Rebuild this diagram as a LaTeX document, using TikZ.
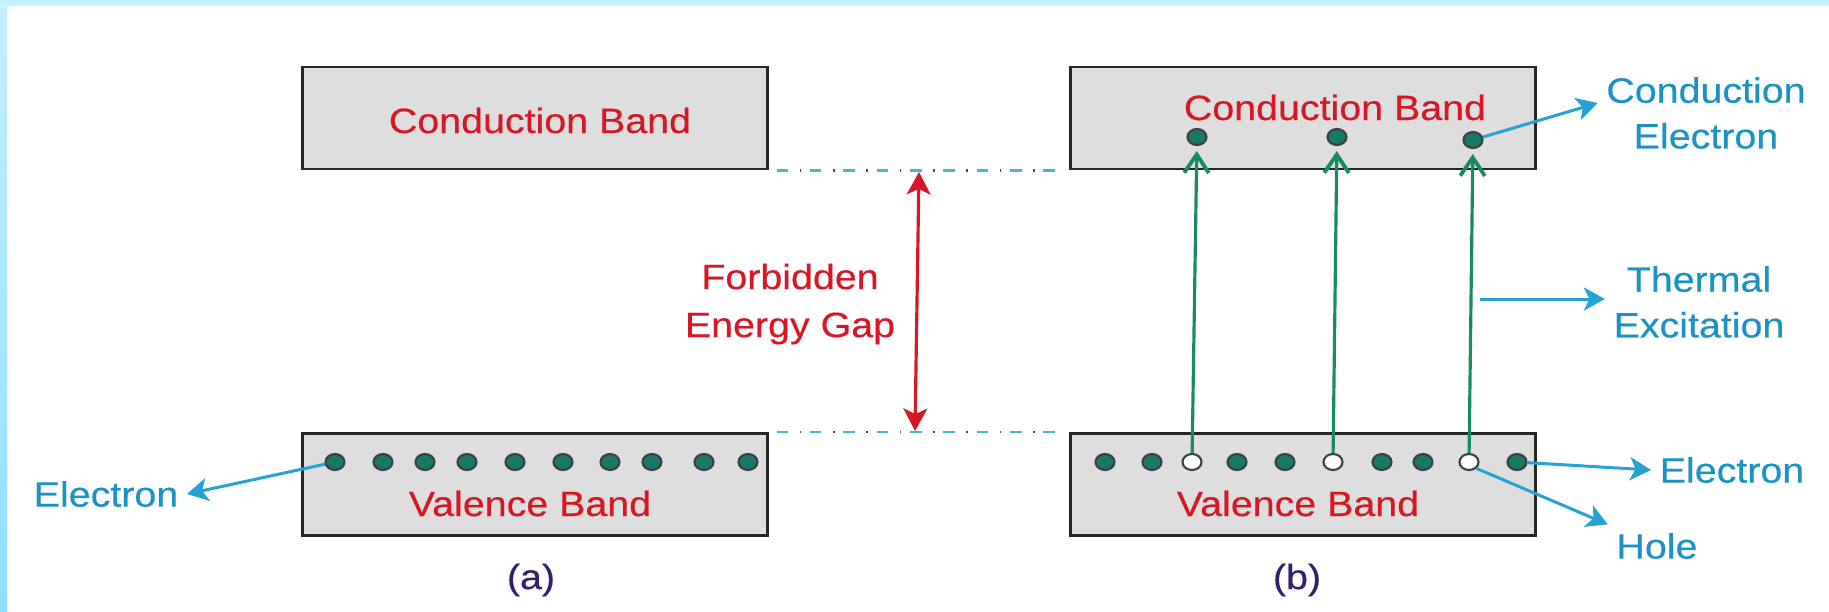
\documentclass[tikz,border=0pt]{standalone}
\usepackage{fontspec}
\setmainfont{Liberation Sans}[FakeStretch=1.12,FakeBold=0.4]
\usetikzlibrary{shapes.geometric,arrows.meta,positioning,calc}

\definecolor{bandred}{RGB}{214,24,38}
\definecolor{tagblue}{RGB}{28,146,196}
\definecolor{pointblue}{RGB}{38,162,212}
\definecolor{exgreen}{RGB}{24,140,92}
\definecolor{dotteal}{RGB}{22,122,100}
\definecolor{capnavy}{RGB}{52,32,104}
\definecolor{gapcyan}{RGB}{72,182,206}
\definecolor{framesky}{RGB}{196,239,254}
\definecolor{framedeep}{RGB}{140,224,255}

\begin{document}
\begin{tikzpicture}[
  x=0.01cm, y=-0.01cm,
  band/.style={rectangle, draw=black!85, line width=0.8pt, fill=black!13,
               minimum width=4.64cm, minimum height=1.02cm, inner sep=0pt},
  bandtext/.style={text=bandred, font=\fontsize{10}{13.5}\selectfont, anchor=base},
  tag/.style={text=tagblue, font=\fontsize{10}{13}\selectfont, align=center, inner sep=0.08cm},
  elec/.style={ellipse, draw=black!75, line width=0.6pt, fill=dotteal,
               minimum width=0.19cm, minimum height=0.16cm, inner sep=0pt},
  hole/.style={elec, fill=white},
  pointer/.style={draw=pointblue, line width=0.85pt,
                  -{Stealth[length=6pt,width=6.6pt,inset=1.6pt]}},
  excite/.style={draw=exgreen, line width=0.9pt,
                 -{Straight Barb[length=5.2pt,width=7pt,line width=1.1pt]}, shorten >=0.05cm},
  gaparrow/.style={draw=bandred, line width=0.9pt,
                   {Stealth[length=6.4pt,width=6.8pt,inset=1.6pt]}-{Stealth[length=6.4pt,width=6.8pt,inset=1.6pt]}},
  gapline/.style={gapcyan, line width=0.8pt, dash pattern=on 3.3pt off 6.18pt},
  gapdot/.style={black!70, line width=0.8pt, dash pattern=on 0.5pt off 8.98pt, dash phase=2.93pt},
  caption/.style={text=capnavy, font=\fontsize{10}{13}\selectfont},
]
  \useasboundingbox (0,0) rectangle (1829,611);

  % sky blue frame on top and left
  \fill[framesky] (0,0) rectangle (1829,6);
  \shade[top color=framesky, bottom color=framedeep] (0,0) rectangle (7,611);

  % the four bands
  \node[band] (cbA) at (535,118) {};
  \node[band] (vbA) at (535,484.5) {};
  \node[band] (cbB) at (1303,118) {};
  \node[band] (vbB) at (1303,484.5) {};

  \node[bandtext] (cbAtxt) at (540,133) {Conduction Band};
  \node[bandtext] (vbAtxt) at (530,516) {Valence Band};
  \node[bandtext] (cbBtxt) at (1335,120) {Conduction Band};
  \node[bandtext] (vbBtxt) at (1298,516) {Valence Band};

  % band edges carried across the gap
  \draw[gapline] ([xshift=0.08cm]cbA.south east) -- ([xshift=-0.08cm]cbB.south west);
  \draw[gapdot] ([xshift=0.08cm]cbA.south east) -- ([xshift=-0.08cm]cbB.south west);
  \draw[gapline] ([xshift=0.08cm]vbA.north east) -- ([xshift=-0.08cm]vbB.north west);
  \draw[gapdot] ([xshift=0.08cm]vbA.north east) -- ([xshift=-0.08cm]vbB.north west);

  \coordinate (gtop) at (919,172);
  \coordinate (gbot) at (915,431);
  \draw[gaparrow] (gtop) -- (gbot);
  \node[text=bandred, font=\fontsize{10}{13.66}\selectfont, align=center] (gap) at (790,304)
    {Forbidden\\Energy Gap};

  % (a) full valence band
  \foreach \x [count=\i] in {335,383,425,467,515,563,610,652,704,748}
    \node[elec] (vA\i) at (\x,462) {};

  % (b) electrons lifted, holes left behind
  \foreach \x/\kind [count=\i] in {1105/elec,1152/elec,1192/hole,1237/elec,1285/elec,
                                   1333/hole,1382/elec,1423/elec,1469/hole,1517/elec}
    \node[\kind] (vB\i) at (\x,462) {};
  \node[elec] (cB1) at (1197,137) {};
  \node[elec] (cB2) at (1337,137) {};
  \node[elec] (cB3) at (1473,140) {};

  \foreach \h/\c in {3/1,6/2,9/3}
    \draw[excite] (vB\h) -- (cB\c);

  % labels
  \node[tag] (elecA) at (106,494) {Electron};
  \node[tag] (condE) at (1706,113) {Conduction\\Electron};
  \node[tag] (therm) at (1699,302) {Thermal\\Excitation};
  \node[tag] (elecB) at (1732,470) {Electron};
  \node[tag] (holeB) at (1657,546) {Hole};
  \coordinate (thm) at (1480,299);

  \draw[pointer] (vA1) -- (elecA.east);
  \draw[pointer] (cB3) -- ([yshift=0.1cm]condE.west);
  \draw[pointer] (thm) -- (thm -| therm.west);
  \draw[pointer] (vB10) -- (elecB.west);
  \draw[pointer] (vB9.south east) -- (holeB.north west);

  \node[caption] (capA) at (531,580) {(a)};
  \node[caption] (capB) at (1297,580) {(b)};
\end{tikzpicture}
\end{document}
